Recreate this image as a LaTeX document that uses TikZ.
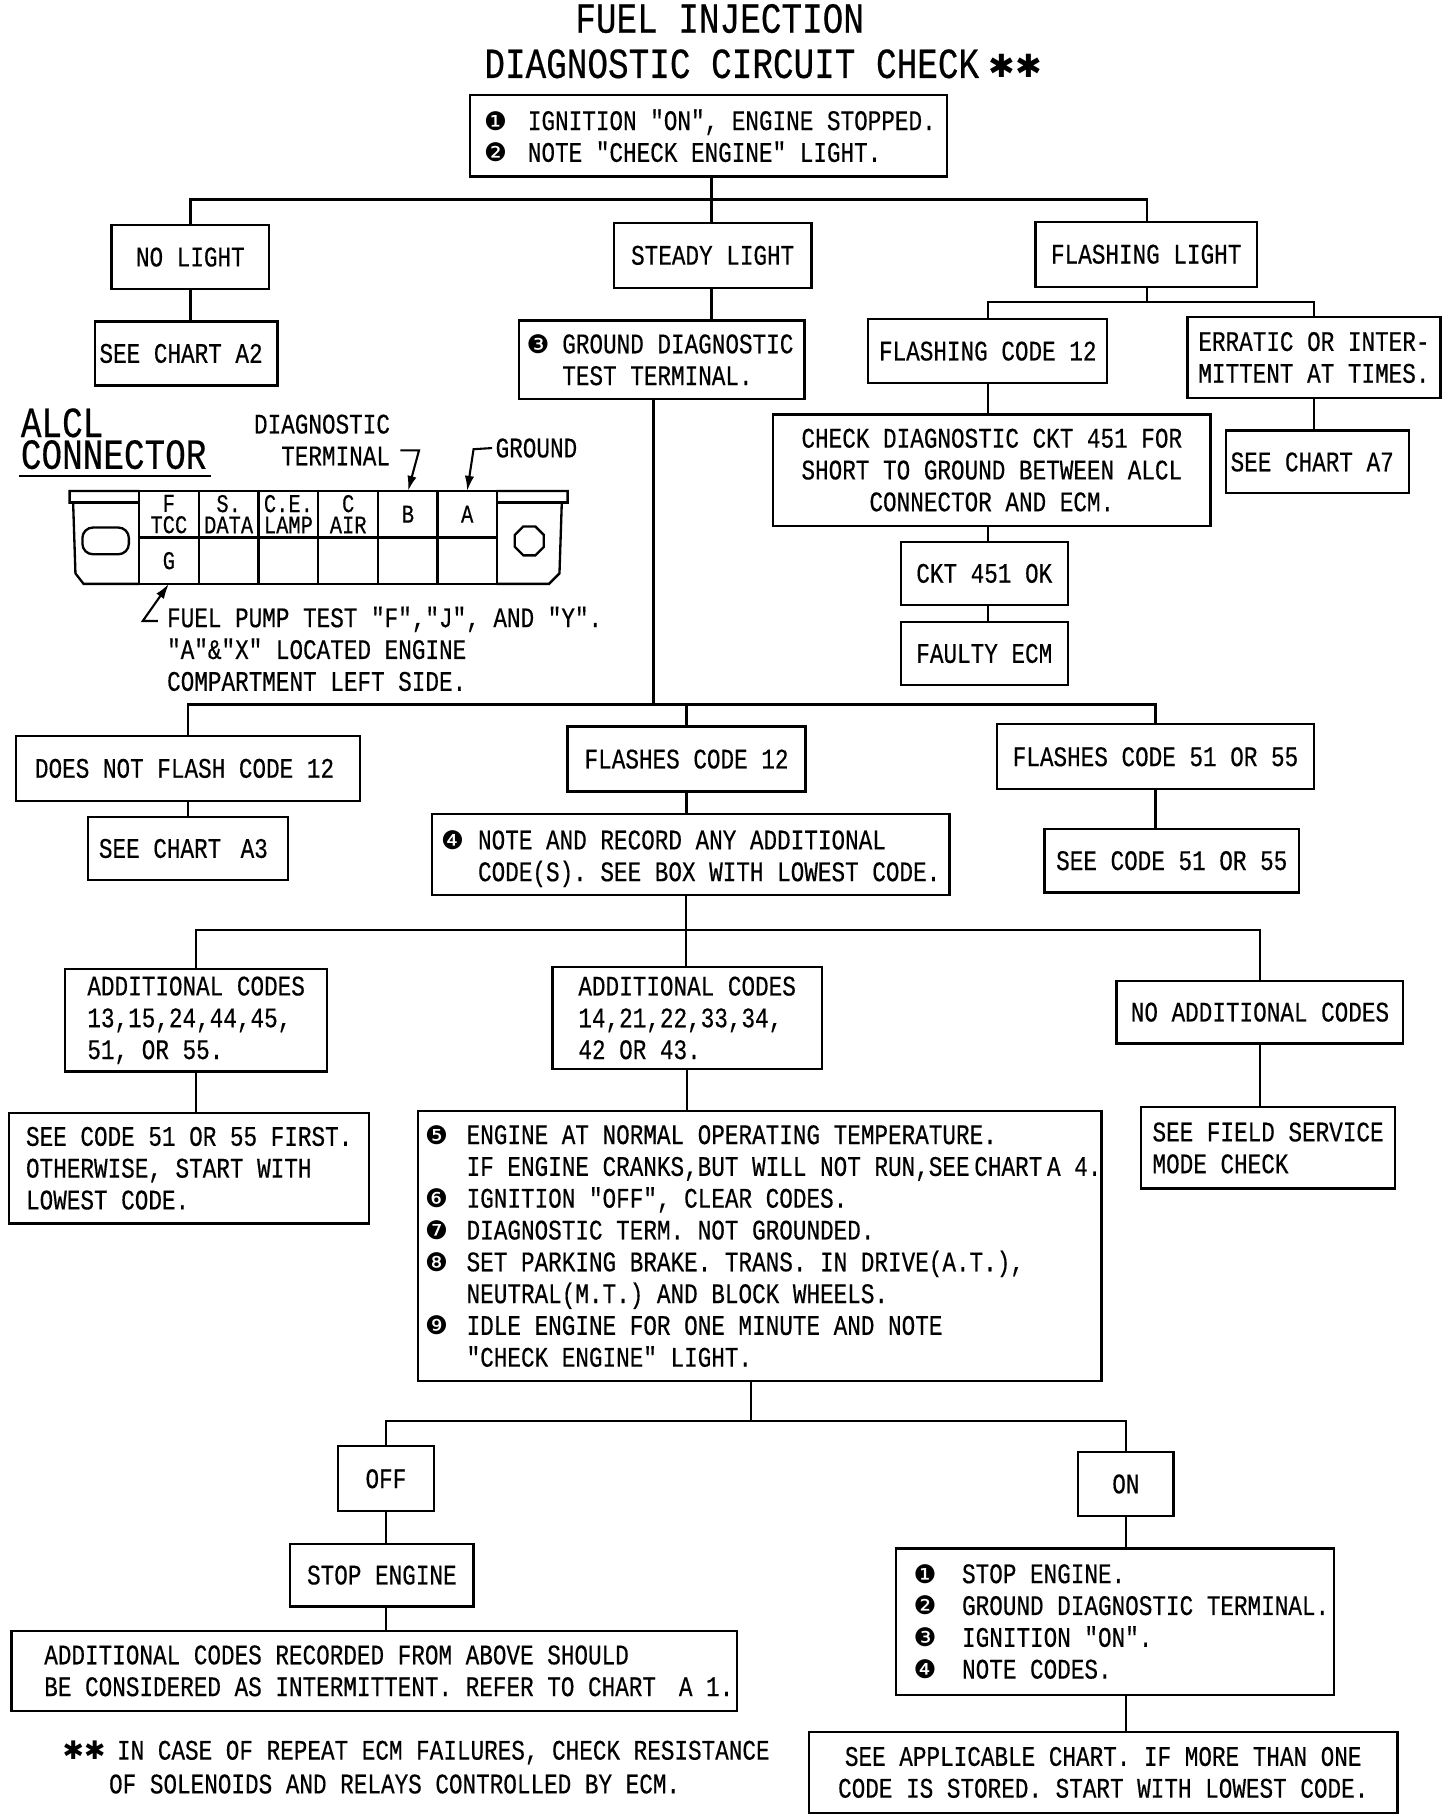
\documentclass[tikz,border=0pt]{standalone}
\usepackage{fontspec}
\usepackage{xcolor}
\usepackage{tikz}
\usetikzlibrary{arrows.meta,positioning,shapes.geometric,calc}
\newfontfamily\fimono[FakeStretch=0.8,FakeBold=0.4]{Liberation Mono}
\newfontfamily\fisym{DejaVu Sans}
\newcommand{\fibul}[3]{\makebox[#1pt][r]{{\fisym\fontsize{22}{20}\selectfont #3}\hspace{#2pt}}}
\tikzset{
  fibox/.style={draw, line width=2pt, align=left, inner sep=0pt, outer sep=0pt, font=\fimono\fontsize{24.4}{27.4}\selectfont},
  fitext/.style={align=left, inner sep=0pt, outer sep=0pt, font=\fimono\fontsize{24.4}{27.4}\selectfont},
  fibig/.style={align=left, inner sep=0pt, outer sep=0pt, font=\fimono\fontsize{37}{27.4}\selectfont},
  ficell/.style={draw, line width=2pt, align=center, inner sep=0pt, outer sep=0pt, minimum width=51.5, minimum height=40, font=\fimono\fontsize{22}{18.4}\selectfont},
  fiwire/.style={line width=2pt},
  fiarrow/.style={-{Latex[length=13pt,width=8pt]}, line width=1.8pt}
}
\begin{document}
\begin{tikzpicture}[x=1pt, y=-1pt]
\useasboundingbox (0,0) rectangle (1254,1568);
% title
\node[fibig] (titleone) at (620,16) {FUEL INJECTION};
\node[fibig] (titletwo) at (657.5,55) {DIAGNOSTIC CIRCUIT CHECK\hspace{8pt}{\fisym\fontsize{27.5}{30}\selectfont ✱✱}};

% first level
\node[fibox, minimum width=411, minimum height=70] (start) at (610.5,117)
{\fibul{40}{18}{❶}IGNITION "ON", ENGINE STOPPED.\\
\fibul{40}{18}{❷}NOTE "CHECK ENGINE" LIGHT.};
\node[fibox, minimum width=136, minimum height=55] (nolight) at (164,221.5) {NO LIGHT};
\node[fibox, minimum width=170, minimum height=56] (steady) at (614,220) {STEADY LIGHT};
\node[fibox, minimum width=191, minimum height=56] (flashing) at (987.5,219) {FLASHING LIGHT};
\node[fibox, minimum width=157, minimum height=55] (seeatwo) at (160.5,304.5) {SEE CHART A2\hspace*{9pt}};
\node[fibox, minimum width=246, minimum height=68] (grounddiag) at (570,310)
{\fibul{28}{11}{❸}GROUND DIAGNOSTIC\\
\fibul{28}{11}{}TEST TERMINAL.};
\node[fibox, minimum width=206, minimum height=55] (flashtwelve) at (851,302.5) {FLASHING CODE 12};
\node[fibox, minimum width=218, minimum height=70] (erratic) at (1132,308)
{ERRATIC OR INTER-\\MITTENT AT TIMES.};
\node[fibox, minimum width=377, minimum height=96, align=center] (cktcheck) at (854.5,405)
{CHECK DIAGNOSTIC CKT 451 FOR\\SHORT TO GROUND BETWEEN ALCL\\CONNECTOR AND ECM.};
\node[fibox, minimum width=158, minimum height=54] (seeaseven) at (1135,398) {SEE CHART A7\hspace*{9pt}};
\node[fibox, minimum width=144, minimum height=54] (cktok) at (848,494) {CKT 451 OK};
\node[fibox, minimum width=144, minimum height=54] (faultyecm) at (848,563) {FAULTY ECM};

% ALCL connector
\node[fibig, anchor=west] (alcl) at (18,378) {ALCL\\CONNECTOR};
\draw[fiwire] ($(alcl.south west)+(-2,6)$) -- ($(alcl.south east)+(4,6)$);
\node[fitext, anchor=east, align=right] (diagterm) at (336,379) {DIAGNOSTIC\\TERMINAL};
\node[fitext, anchor=west] (groundlabel) at (427,386) {GROUND};
\draw[fiwire] (120,423) -- (60,423) -- (60,433) -- (63,433) -- (65,494) -- (72,503) -- (120,503);
\draw[fiwire] (60,433) -- (120,433);
\draw[fiwire] (428,423) -- (489,423) -- (489,433) -- (484,433) -- (482,494) -- (473,503) -- (428,503);
\draw[fiwire] (428,433) -- (489,433);
\node[ficell] (cellf) at (145.5,443) {F\\TCC};
\node[ficell] (cells) at (197,443) {S.\\DATA};
\node[ficell] (cellc) at (248.5,443) {C.E.\\LAMP};
\node[ficell] (cellair) at (300,443) {C\\AIR};
\node[ficell] (cellb) at (351.5,443) {B};
\node[ficell] (cella) at (402.5,443) {A};
\node[ficell] (cellg) at (145.5,483) {G};
\foreach \cellname/\cellx in {cellsb/197,cellcb/248.5,cellairb/300,cellbb/351.5,cellab/402.5}
  \node[ficell] (\cellname) at (\cellx,483) {};
\node[draw, line width=2pt, rounded corners=9pt, minimum width=40, minimum height=23, inner sep=0pt] (slot) at (91,466) {};
\node[draw, line width=2pt, regular polygon, regular polygon sides=8, minimum size=27, inner sep=0pt] (bolt) at (456,466) {};
\node[fitext, anchor=west] (fuelpump) at (144,559)
{FUEL PUMP TEST "F","J", AND "Y".\\
"A"\&"X" LOCATED ENGINE\\
COMPARTMENT LEFT SIDE.};
\coordinate (termbend) at (361,388);
\coordinate (groundbend) at (408,387);
\coordinate (pumpbend) at (123,535);
\draw[fiarrow] (diagterm.east |- termbend) ++(9,0) -- (termbend) -- (cellb.north);
\draw[fiarrow] ($(groundlabel.west)+(-3,0)$) -- (groundbend) -- (cella.north);
\draw[fiarrow] ($(pumpbend)+(13,0)$) -- (pumpbend) -- (cellg.south);

% second level
\node[fibox, minimum width=296, minimum height=56] (nocode) at (162,662) {DOES NOT FLASH CODE 12\hspace*{6pt}};
\node[fibox, minimum width=205, minimum height=56] (codetwelve) at (591.5,654) {FLASHES CODE 12};
\node[fibox, minimum width=273, minimum height=56] (codefifty) at (995.5,652) {FLASHES CODE 51 OR 55};
\node[fibox, minimum width=172, minimum height=54] (seeathree) at (162,731) {SEE CHART\hspace{5pt} A3\hspace*{8pt}};
\node[fibox, minimum width=446, minimum height=70] (record) at (595,736)
{\rule{0pt}{24pt}\fibul{32}{12}{❹}NOTE AND RECORD ANY ADDITIONAL\\
\fibul{32}{12}{}CODE(S). SEE BOX WITH LOWEST CODE.};
\node[fibox, minimum width=219, minimum height=55] (seefifty) at (1009.5,741.5) {SEE CODE 51 OR 55};

% third level
\node[fibox, minimum width=226, minimum height=88] (addone) at (169,879)
{ADDITIONAL CODES\\13,15,24,44,45,\\51, OR 55.};
\node[fibox, minimum width=232, minimum height=88] (addtwo) at (592,877)
{ADDITIONAL CODES\\14,21,22,33,34,\\42 OR 43.};
\node[fibox, minimum width=247, minimum height=54] (noadd) at (1085.5,872) {NO ADDITIONAL CODES};
\node[fibox, minimum width=310, minimum height=95] (fiftyfirst) at (163,1006.5)
{SEE CODE 51 OR 55 FIRST.\\OTHERWISE, START WITH\\LOWEST CODE.};
\node[fibox, minimum width=589, minimum height=233] (normal) at (654.5,1073.5)
{\fibul{42}{16}{❺}ENGINE AT NORMAL OPERATING TEMPERATURE.\\
\fibul{42}{16}{}IF ENGINE CRANKS,BUT WILL NOT RUN,SEE\,CHART\,A 4.\\
\fibul{42}{16}{❻}IGNITION "OFF", CLEAR CODES.\\
\fibul{42}{16}{❼}DIAGNOSTIC TERM. NOT GROUNDED.\\
\fibul{42}{16}{❽}SET PARKING BRAKE. TRANS. IN DRIVE(A.T.),\\
\fibul{42}{16}{}NEUTRAL(M.T.) AND BLOCK WHEELS.\\
\fibul{42}{16}{❾}IDLE ENGINE FOR ONE MINUTE AND NOTE\\
\fibul{42}{16}{}"CHECK ENGINE" LIGHT.};
\node[fibox, minimum width=219, minimum height=70] (fieldmode) at (1092.5,989)
{SEE FIELD SERVICE\\MODE CHECK};

% bottom level
\node[fibox, minimum width=83, minimum height=56] (off) at (332.5,1274) {OFF};
\node[fibox, minimum width=82, minimum height=55] (on) at (970,1278.5) {ON};
\node[fibox, minimum width=158, minimum height=54] (stopengine) at (329,1357) {STOP ENGINE};
\node[fibox, minimum width=377, minimum height=126] (stopnote) at (960.5,1397)
{\fibul{53}{22}{❶}STOP ENGINE.\\
\fibul{53}{22}{❷}GROUND DIAGNOSTIC TERMINAL.\\
\fibul{53}{22}{❸}IGNITION "ON".\\
\fibul{53}{22}{❹}NOTE CODES.};
\node[fibox, minimum width=625, minimum height=69] (intermittent) at (322.5,1439.5)
{\hspace*{25pt}ADDITIONAL CODES RECORDED FROM ABOVE SHOULD\\
\hspace*{25pt}BE CONSIDERED AS INTERMITTENT. REFER TO CHART\hspace{8pt} A 1.};
\node[fibox, minimum width=507, minimum height=70, align=center] (applicable) at (950.5,1527)
{SEE APPLICABLE CHART. IF MORE THAN ONE\\CODE IS STORED. START WITH LOWEST CODE.};
\node[fitext, anchor=west] (footone) at (54,1510) {{\fisym\fontsize{22}{22}\selectfont ✱✱}\hspace{10pt}IN CASE OF REPEAT ECM FAILURES, CHECK RESISTANCE};
\node[fitext, anchor=west] (foottwo) at (94,1537) {OF SOLENOIDS AND RELAYS CONTROLLED BY ECM.};

% connectors
\coordinate (busa) at (613,172);
\coordinate (busb) at (988,260);
\coordinate (busc) at (563,607);
\coordinate (busd) at (591,801);
\coordinate (buse) at (647,1224);
\draw[fiwire] (start.south -| busa) -- (busa);
\draw[fiwire] (nolight.north) |- (busa) -| (steady.north -| busa);
\draw[fiwire] (busa) -| (flashing.north -| busb);
\draw[fiwire] (nolight) -- (seeatwo.north -| nolight);
\draw[fiwire] (steady.south -| busa) -- (grounddiag.north -| busa);
\draw[fiwire] (flashing.south -| busb) -- (busb);
\draw[fiwire] (flashtwelve.north) |- (busb) -| (erratic.north);
\draw[fiwire] (flashtwelve.south) -- (cktcheck.north -| flashtwelve);
\draw[fiwire] (cktcheck.south -| flashtwelve) -- (cktok.north -| flashtwelve);
\draw[fiwire] (cktok.south -| flashtwelve) -- (faultyecm.north -| flashtwelve);
\draw[fiwire] (erratic.south) -- (seeaseven.north -| erratic);
\draw[fiwire] (grounddiag.south -| busc) -- (busc);
\draw[fiwire] (nocode.north) |- (busc) -| (codefifty.north);
\draw[fiwire] (codetwelve.north) -- (codetwelve.north |- busc);
\draw[fiwire] (nocode.south) -- (seeathree.north);
\draw[fiwire] (codetwelve.south) -- (record.north -| codetwelve);
\draw[fiwire] (codefifty.south) -- (seefifty.north -| codefifty);
\draw[fiwire] (record.south -| busd) -- (busd);
\draw[fiwire] (addone.north) |- (busd) -| (noadd.north);
\draw[fiwire] (addtwo.north -| busd) -- (busd);
\draw[fiwire] (addone.south) -- (fiftyfirst.north -| addone);
\draw[fiwire] (addtwo.south) -- (normal.north -| addtwo);
\draw[fiwire] (noadd.south) -- (fieldmode.north -| noadd);
\draw[fiwire] (normal.south -| buse) -- (buse);
\draw[fiwire] (off.north) |- (buse) -| (on.north);
\draw[fiwire] (off.south) -- (stopengine.north -| off);
\draw[fiwire] (stopengine.south -| off) -- (intermittent.north -| off);
\draw[fiwire] (on.south) -- (stopnote.north -| on);
\draw[fiwire] (stopnote.south -| on) -- (applicable.north -| on);
\end{tikzpicture}
\end{document}
